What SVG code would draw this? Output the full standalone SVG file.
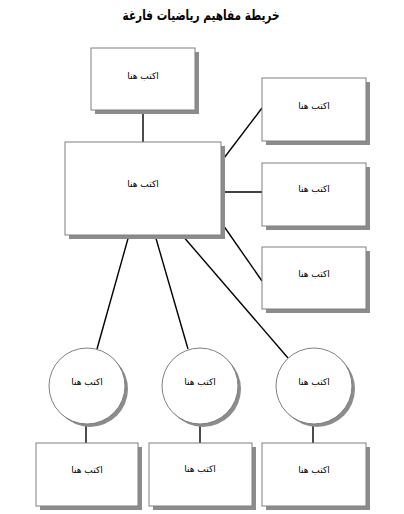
<svg xmlns="http://www.w3.org/2000/svg" width="404" height="514" viewBox="0 0 404 514">
<style>
.bg{fill:#ffffff}
.box{fill:#ffffff;stroke:#808080;stroke-width:1}
.sh{fill:#8c8c8c}
.lbl{font-family:"DejaVu Sans",sans-serif;font-size:9px;fill:#000000;text-anchor:middle}
.ttl{font-family:"DejaVu Sans",sans-serif;font-size:14px;font-weight:bold;fill:#000000;text-anchor:middle}
.con line{stroke:#000000;stroke-width:1.4}
</style>
<rect class="bg" x="0" y="0" width="404" height="514"/>
<text class="ttl" x="201" y="20" direction="rtl" textLength="157" lengthAdjust="spacingAndGlyphs">خريطة مفاهيم رياضيات فارغة</text>
<g id="connectors" class="con">
<line x1="143" y1="110" x2="143" y2="142"/>
<line x1="221" y1="162" x2="262" y2="108"/>
<line x1="221" y1="192" x2="262" y2="192"/>
<line x1="221" y1="222" x2="262" y2="281"/>
<line x1="129" y1="235" x2="97" y2="349"/>
<line x1="155" y1="235" x2="188" y2="349"/>
<line x1="182" y1="235" x2="288" y2="358"/>
<line x1="86" y1="424" x2="86" y2="443"/>
<line x1="200" y1="424" x2="200" y2="443"/>
<line x1="313" y1="424" x2="313" y2="443"/>
</g>
<g id="top">
<rect class="sh" x="95" y="52" width="104" height="62"/>
<rect class="box" x="91" y="48" width="104" height="62"/>
<text class="lbl" x="143" y="79" direction="rtl">اكتب هنا</text>
</g>
<g id="main">
<rect class="sh" x="69" y="146" width="156" height="93"/>
<rect class="box" x="65" y="142" width="156" height="93"/>
<text class="lbl" x="143" y="187" direction="rtl">اكتب هنا</text>
</g>
<g id="right1">
<rect class="sh" x="266" y="82" width="104" height="63"/>
<rect class="box" x="262" y="78" width="104" height="63"/>
<text class="lbl" x="314" y="109" direction="rtl">اكتب هنا</text>
</g>
<g id="right2">
<rect class="sh" x="266" y="167" width="104" height="63"/>
<rect class="box" x="262" y="163" width="104" height="63"/>
<text class="lbl" x="314" y="192" direction="rtl">اكتب هنا</text>
</g>
<g id="right3">
<rect class="sh" x="266" y="251" width="104" height="62"/>
<rect class="box" x="262" y="247" width="104" height="62"/>
<text class="lbl" x="314" y="277" direction="rtl">اكتب هنا</text>
</g>
<g id="circle1">
<circle class="sh" cx="90" cy="389" r="38"/>
<circle class="box" cx="87" cy="386" r="38"/>
<text class="lbl" x="87" y="385" direction="rtl">اكتب هنا</text>
</g>
<g id="circle2">
<circle class="sh" cx="203" cy="389" r="38"/>
<circle class="box" cx="200" cy="386" r="38"/>
<text class="lbl" x="200" y="385" direction="rtl">اكتب هنا</text>
</g>
<g id="circle3">
<circle class="sh" cx="317" cy="389" r="38"/>
<circle class="box" cx="314" cy="386" r="38"/>
<text class="lbl" x="314" y="385" direction="rtl">اكتب هنا</text>
</g>
<g id="bottom1">
<rect class="sh" x="40" y="447" width="102" height="63"/>
<rect class="box" x="36" y="443" width="102" height="63"/>
<text class="lbl" x="87" y="473" direction="rtl">اكتب هنا</text>
</g>
<g id="bottom2">
<rect class="sh" x="153" y="447" width="103" height="63"/>
<rect class="box" x="149" y="443" width="103" height="63"/>
<text class="lbl" x="200" y="472" direction="rtl">اكتب هنا</text>
</g>
<g id="bottom3">
<rect class="sh" x="266" y="447" width="104" height="63"/>
<rect class="box" x="262" y="443" width="104" height="63"/>
<text class="lbl" x="314" y="473" direction="rtl">اكتب هنا</text>
</g>
</svg>
